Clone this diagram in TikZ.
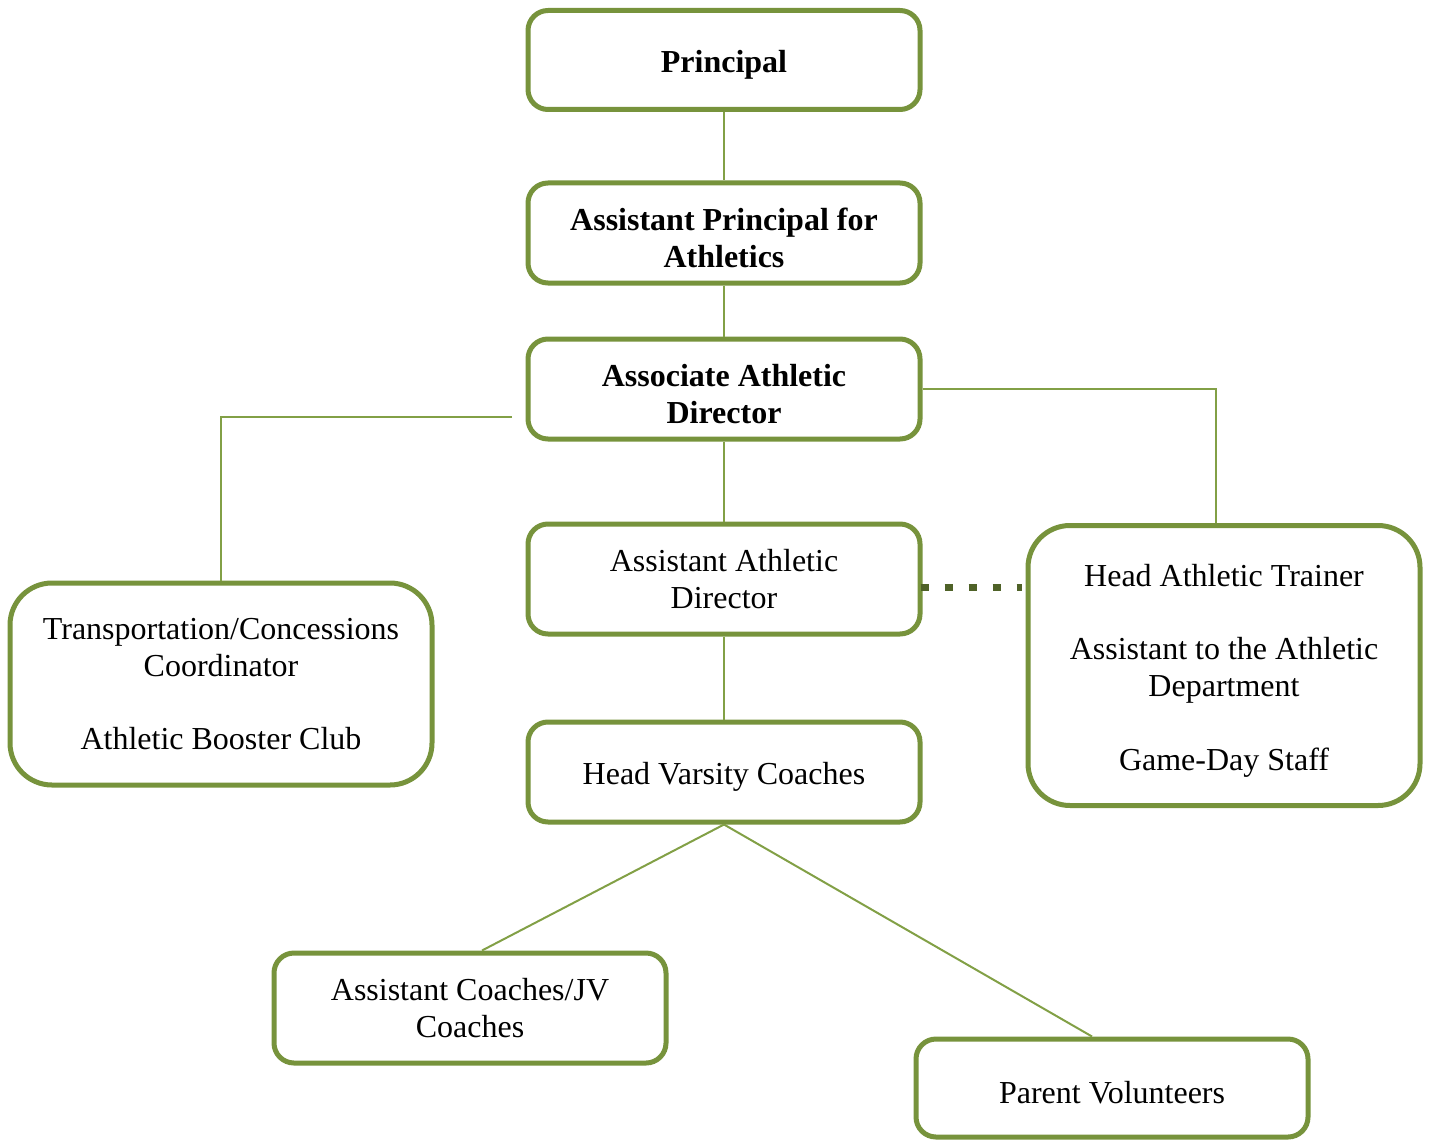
\documentclass[tikz,border=0pt]{standalone}
\usepackage{fontspec}
\setmainfont{Liberation Serif}
\usepackage{xcolor}
\usetikzlibrary{
    calc,
    positioning
}
\definecolor{olivebox}{HTML}{77933C}
\definecolor{oliveline}{HTML}{82A046}
\definecolor{olivedark}{HTML}{4F6228}

\begin{document}
\begin{tikzpicture}[x=0.5pt, y=-0.5pt,
    lines/.style={execute at begin node={\rule{0pt}{\dimexpr 16pt+18.4pt*(#1-1)\relax}}},
    box/.style={draw=olivebox, line width=2.5pt, rounded corners=10pt, fill=white,
        align=center, inner sep=0pt, minimum width=196pt, minimum height=50pt,
        font=\fontsize{16}{18.4}\selectfont, lines=1},
    bigbox/.style={box, rounded corners=21pt},
    link/.style={draw=oliveline, line width=1pt}]
                        \useasboundingbox (0, 0) rectangle (1433, 1139);
                        % chain of command
                        \node[box, minimum height=49.5pt] (principal) at (724, 60) {\textbf{Principal}};
                        \node[box, lines=2] (ap) at (724, 233) {\textbf{Assistant Principal for}\\\textbf{Athletics}};
                        \node[box, lines=2] (assoc) at (724, 389) {\textbf{Associate Athletic}\\\textbf{Director}};
                        \node[box, minimum height=55pt] (aad) at (724, 579) {Assistant Athletic\\Director};
                        \node[box] (hvc) at (724, 772) {Head Varsity Coaches};
                        % side groups
                        \node[bigbox, minimum width=211pt, minimum height=101pt] (transport) at (221, 684)
                            {Transportation/Concessions\\Coordinator\\[18.4pt]Athletic Booster Club};
                        \node[bigbox, lines=6, minimum height=140pt] (trainer) at (1224, 665.5)
                            {Head Athletic Trainer\\[18.4pt]Assistant to the Athletic\\Department\\[18.4pt]Game-Day Staff};
                        % under the coaches
                        \node[box, minimum height=55pt] (coaches) at (470, 1008) {Assistant Coaches/JV\\Coaches};
                        \node[box, minimum height=49pt] (parents) at (1112, 1088) {Parent Volunteers};
                        \coordinate (lj) at (512, 417);
                        \draw[link]
                        (principal) edge (ap)
                        (ap) edge (assoc)
                        (assoc) edge (aad)
                        (aad) edge (hvc)
                        (hvc.south) edge ([xshift=6pt]coaches.north)
                        (hvc.south) edge ([xshift=-10pt]parents.north);
                        \draw[link] (lj) -| (transport.north);
                        \draw[link] (assoc.east) -| ([xshift=-4pt]trainer.north);
                        \draw[olivedark, line width=3.5pt, dash pattern=on 4pt off 8pt]
                        ([yshift=-4pt, xshift=-1pt]aad.east) -- ([yshift=-4pt, xshift=-2pt]aad.east -| trainer.west);
                    \end{tikzpicture}
\end{document}
